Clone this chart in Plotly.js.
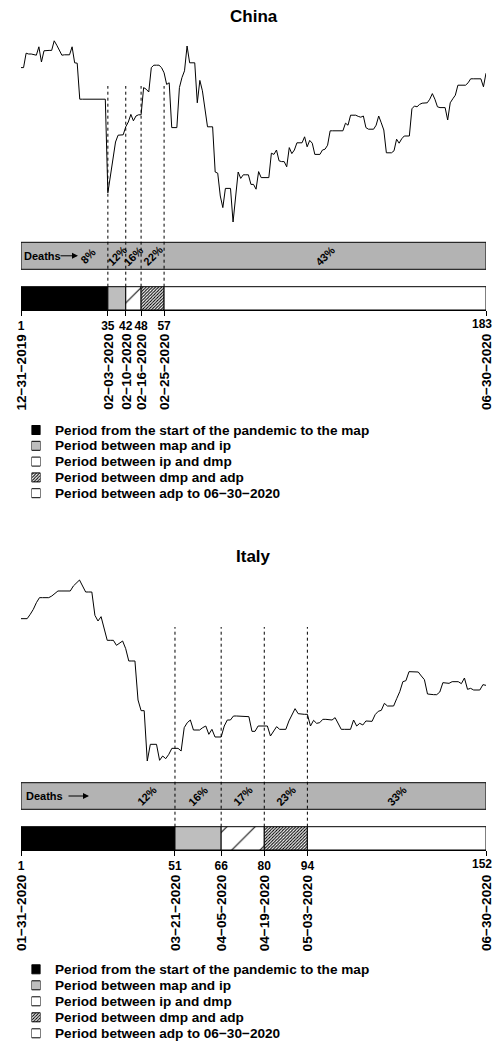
<!DOCTYPE html>
<html><head><meta charset="utf-8">
<script src="https://cdn.plot.ly/plotly-3.0.1.min.js"></script>
<style>html,body{margin:0;padding:0;background:#fff}#chart{width:494px;height:1045px}</style>
</head><body><div id="chart"></div>
<script>
// ================= DATA =================
// China: daily index level, 12-31-2019 (day 1) to 06-30-2020 (day 183)
const chinaValues = [
 3048,3048,3084,3082,3082,3081,3079,3100,3062,3090,3091,3091,3091,3115,3104,3090,3079,3080,3080,3080,3100,3060,3059,
 2969,2969,2969,2969,2969,2969,2969,2969,2969,2969,2969,
 2735,2777,2819,2862,2879,2880,2880,2900,2912,2931,2915,2927,2930,2930,2998,2994,2987,3048,3054,3054,
 3054,3048,3035,3006,3010,2898,2898,2898,2998,3023,3040,3102,3060,3060,3060,2960,3016,2990,2940,2900,
 2900,2900,2787,2784,2727,2698,2746,2746,2746,2662,2727,2787,2771,2780,2780,2780,2756,2756,2744,2788,
 2773,2773,2773,2773,2834,2831,2842,2815,2813,2813,2800,2848,2833,2842,2860,2860,2860,2875,2850,2866,
 2859,2831,2831,2831,2842,2844,2854,2890,
 2890,2890,2890,2890,2890,
 2909,2904,2929,2929,2929,2926,2924,2927,2898,2894,2894,2894,2904,2927,2910,2892,2835,2835,2835,2840,
 2869,2859,2870,2877,2877,2877,2945,2952,2950,2956,2959,2960,2960,2969,2983,2969,2950,2948,2948,2948,
 2917,2960,2970,2979,3004,3004,3004,3004,3010,3020,3020,3020,3020,3020,3000,3034
];
const chinaBreaks = [1, 35, 42, 48, 57, 183];
const chinaDates = ["12\u221231\u22122019","02\u221203\u22122020","02\u221210\u22122020","02\u221216\u22122020","02\u221225\u22122020","06\u221230\u22122020"];
const chinaDeathPct = ["8%","12%","16%","22%","43%"];
const chinaPctPos = [27.2, 38.5, 45, 52.5, 120];

// Italy: daily index level, 01-31-2020 (day 1) to 06-30-2020 (day 152)
const italyValues = [
 23216,23216,23216,23470,23762,24152,24445,24445,24445,24445,24542,24698,24835,24835,24835,24835,24835,25127,25283,25478,
 25127,24776,24776,24776,23411,23080,23333,22690,21949,21949,21949,21656,21773,21910,21461,20740,20740,20740,18458,17834,
 17834,14890,15865,15865,15865,14929,15182,15026,15280,15630,15630,15630,15475,16840,17132,17288,16703,16703,16703,16840,
 16937,16450,16742,16294,16294,16294,16937,17288,17288,17522,17522,17522,17522,17522,17483,16625,16625,16937,16937,16937,
 16937,16352,16645,16898,16742,16742,16742,17230,17561,17951,17659,17620,17620,17620,16937,17269,17093,17132,17327,17327,
 17327,17288,17425,17074,16742,16742,16742,16742,17288,16937,17093,16996,17230,17210,17210,17600,17795,17854,18263,18107,
 18107,18107,18536,18946,19530,19589,20116,20116,20116,20096,19862,19648,18809,18770,18770,18770,18926,19472,19472,19433,
 19530,19530,19530,19414,19745,19082,19140,19043,19043,19043,19355,19316
];
const italyBreaks = [1, 51, 66, 80, 94, 152];
const italyDates = ["01\u221231\u22122020","03\u221221\u22122020","04\u221205\u22122020","04\u221219\u22122020","05\u221203\u22122020","06\u221230\u22122020"];
const italyDeathPct = ["12%","16%","17%","23%","33%"];
const italyPctPos = [41.8, 58.5, 73, 87, 123];

const legendLabels = [
 "Period from the start of the pandemic to the map",
 "Period between map and ip",
 "Period between ip and dmp",
 "Period between dmp and adp",
 "Period between adp to 06\u221230\u22122020"
];

// ================= STYLE =================
const W = 494, H = 1045;
const fx = p => p / W, fy = p => 1 - p / H;
const FONT = "Liberation Sans, Arial, Helvetica, sans-serif";
const segStyles = [
  {color: "#000000"},
  {color: "#bebebe"},
  {color: "#ffffff", pattern: {shape: "/", size: 20, solidity: 0.05}},
  {color: "#ffffff", pattern: {shape: "/", size: 2.2, solidity: 0.45}},
  {color: "#ffffff"}
];
const xdom = [fx(21), fx(486)];
const tickFont = {family: FONT, size: 12, weight: 'bold', color: '#000'};

function segMarker(i) {
  const s = segStyles[i];
  const m = {color: s.color, line: {color: '#000', width: 1}};
  if (s.pattern) m.pattern = Object.assign({fgcolor: '#000000', bgcolor: s.color, fgopacity: 1, fillmode: 'replace'}, s.pattern);
  return m;
}

function buildCountry(values, breaks, dates, pct, pctPos, ax, geo) {
  const traces = [], shapes = [], ann = [];
  const n = values.length;
  const xs = values.map((_, i) => i + 1);
  const xl = 'x' + ax.line, yl = 'y' + ax.line, xb = 'x' + ax.bar, yb = 'y' + ax.bar;
  // line
  traces.push({type: 'scatter', mode: 'lines', x: xs, y: values, xaxis: xl, yaxis: yl,
    line: {color: '#000', width: 1}, hoverinfo: 'skip'});
  // deaths bar
  traces.push({type: 'bar', orientation: 'h', base: [1], x: [n - 1], y: [geo.deathC], width: [geo.deathW],
    xaxis: xb, yaxis: yb, marker: {color: '#b3b3b3', line: {color: '#000', width: 1}}, hoverinfo: 'skip'});
  // period segments
  for (let i = 0; i < breaks.length - 1; i++) {
    traces.push({type: 'bar', orientation: 'h', base: [breaks[i]], x: [breaks[i + 1] - breaks[i]], y: [geo.perC],
      width: [geo.perW], xaxis: xb, yaxis: yb, marker: segMarker(i), hoverinfo: 'skip'});
  }
  // dashed lines
  breaks.slice(1, -1).forEach(b => {
    shapes.push({type: 'line', xref: xb, yref: 'paper', x0: b, x1: b, y0: fy(geo.dashBot), y1: fy(geo.dashTop),
      line: {color: '#000', width: 1, dash: '3px,3px'}, layer: 'above'});
  });
  // percentages
  pct.forEach((t, i) => ann.push({xref: xb, yref: yb, x: pctPos[i], y: geo.deathC, text: t, textangle: -45,
    showarrow: false, font: {family: FONT, size: 11, weight: 'bold', color: '#000'}}));
  // Deaths label and arrow
  ann.push({xref: 'paper', yref: yb, x: fx(geo.deathsX), y: geo.deathC, text: 'Deaths', xanchor: 'left',
    showarrow: false, font: {family: FONT, size: 11, weight: 'bold', color: '#000'}});
  ann.push({xref: 'paper', yref: yb, x: fx(geo.arrowHead), y: geo.deathC, ax: -geo.arrowLen, ay: 0, text: '',
    showarrow: true, arrowhead: 2, arrowsize: 1.2, arrowwidth: 1, arrowcolor: '#000'});
  // last tick number kept inside the page
  ann.push({xref: 'paper', yref: 'paper', x: 1, y: fy(geo.axisY + 14), text: String(breaks[breaks.length - 1]),
    xanchor: 'right', yanchor: 'middle', showarrow: false, font: tickFont});
  // date labels
  dates.forEach((d, i) => ann.push({xref: xb, yref: 'paper', x: breaks[i], y: fy(geo.dateTop), text: d,
    textangle: -90, xanchor: 'center', yanchor: 'top', showarrow: false,
    font: {family: FONT, size: 13.6, weight: 'bold', color: '#000'}}));
  // title
  ann.push({xref: 'paper', yref: 'paper', x: fx(253.5), y: fy(geo.titleY), text: geo.title, showarrow: false,
    xanchor: 'center', yanchor: 'middle', font: {family: FONT, size: 17, weight: 'bold', color: '#000'}});
  // legend swatches + text
  legendLabels.forEach((l, i) => {
    traces.push({type: 'bar', orientation: 'h', base: [0], x: [1], y: [l], width: [geo.swW],
      xaxis: 'x' + ax.leg, yaxis: 'y' + ax.leg, marker: segMarker(i), hoverinfo: 'skip'});
    ann.push({xref: 'paper', yref: 'y' + ax.leg, x: fx(53), y: l, text: l,
      xanchor: 'left', yanchor: 'middle', showarrow: false,
      font: {family: FONT, size: 13.6, weight: 'bold', color: '#000'}});
  });
  return {traces, shapes, ann};
}

const china = buildCountry(chinaValues, chinaBreaks, chinaDates, chinaDeathPct, chinaPctPos,
  {line: '', bar: '2', leg: '5'},
  {deathC: 255.8, deathW: 27, perC: 298.35, perW: 23.3, dashTop: 86, dashBot: 286.7, deathsX: 21.5,
   arrowHead: 78, arrowLen: 19, dateTop: 332, titleY: 16.5, title: 'China', swW: 0.57, axisY: 310});
const italy = buildCountry(italyValues, italyBreaks, italyDates, italyDeathPct, italyPctPos,
  {line: '3', bar: '4', leg: '6'},
  {deathC: 796, deathW: 26.6, perC: 838.35, perW: 23.3, dashTop: 627, dashBot: 826.7, deathsX: 24,
   arrowHead: 89, arrowLen: 22, dateTop: 873, titleY: 556, title: 'Italy', swW: 0.5625, axisY: 850});

const hidden = {visible: false, showgrid: false, zeroline: false, fixedrange: true};
const tickAxis = (anchor, n, breaks) => ({domain: xdom, range: [1, n], anchor, tickmode: 'array', tickvals: breaks,
  ticktext: breaks.map((b, i) => i === breaks.length - 1 ? '' : String(b)), tickangle: 0, ticklabeloverflow: 'allow',
  ticks: 'outside', ticklen: 5, tickwidth: 1, tickcolor: '#000', showline: true, linecolor: '#000', linewidth: 1,
  showgrid: false, zeroline: false, tickfont: tickFont});

const layout = {
  width: W, height: H, margin: {l: 0, r: 0, t: 0, b: 0}, paper_bgcolor: '#fff', plot_bgcolor: 'rgba(0,0,0,0)',
  showlegend: false, barmode: 'overlay',
  xaxis: Object.assign({}, hidden, {domain: xdom, range: [1, 183], anchor: 'y'}),
  yaxis: Object.assign({}, hidden, {domain: [fy(226), fy(36)], range: [2652, 3127], anchor: 'x'}),
  xaxis2: tickAxis('y2', 183, chinaBreaks),
  yaxis2: Object.assign({}, hidden, {domain: [fy(310), fy(238)], range: [310, 238], anchor: 'x2'}),
  xaxis3: Object.assign({}, hidden, {domain: xdom, range: [1, 152], anchor: 'y3'}),
  yaxis3: Object.assign({}, hidden, {domain: [fy(768), fy(576)], range: [14480, 25712], anchor: 'x3'}),
  xaxis4: tickAxis('y4', 152, italyBreaks),
  yaxis4: Object.assign({}, hidden, {domain: [fy(850), fy(778)], range: [850, 778], anchor: 'x4'}),
  xaxis5: Object.assign({}, hidden, {domain: [fx(31.5), fx(40.5)], range: [0, 1], anchor: 'y5'}),
  yaxis5: Object.assign({}, hidden, {domain: [fy(501.1), fy(422.1)], type: 'category',
    categoryorder: 'array', categoryarray: legendLabels, range: [4.5, -0.5], anchor: 'x5'}),
  xaxis6: Object.assign({}, hidden, {domain: [fx(31.5), fx(40.5)], range: [0, 1], anchor: 'y6'}),
  yaxis6: Object.assign({}, hidden, {domain: [fy(1041.3), fy(961.3)], type: 'category',
    categoryorder: 'array', categoryarray: legendLabels, range: [4.5, -0.5], anchor: 'x6'}),
  shapes: china.shapes.concat(italy.shapes),
  annotations: china.ann.concat(italy.ann)
};

Plotly.newPlot('chart', china.traces.concat(italy.traces), layout, {staticPlot: true, displayModeBar: false});
</script>
</body></html>
